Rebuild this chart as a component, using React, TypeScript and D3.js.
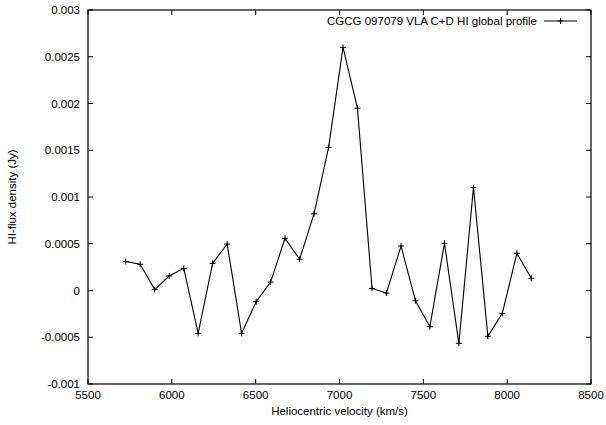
import React from "react";
import * as d3 from "d3";

const velocities = [5725, 5811, 5898, 5984, 6071, 6157, 6243, 6330, 6416, 6503, 6589, 6675, 6762, 6848, 6935, 7021, 7107, 7194, 7280, 7367, 7453, 7539, 7626, 7712, 7799, 7885, 7971, 8058, 8144];
const fluxes = [0.00031, 0.00028, 0.00001, 0.000155, 0.000237, -0.000458, 0.00029, 0.000497, -0.000458, -0.00012, 0.00009, 0.000558, 0.000334, 0.00082, 0.00153, 0.0026, 0.00195, 0.000022, -0.000027, 0.000476, -0.00011, -0.000387, 0.000505, -0.000565, 0.0011, -0.00049, -0.000244, 0.000398, 0.00013];
const xTicks = [5500, 6000, 6500, 7000, 7500, 8000, 8500];
const yTicks = [-0.001, -0.0005, 0, 0.0005, 0.001, 0.0015, 0.002, 0.0025, 0.003];
const yTickLabels = ["-0.001", "-0.0005", "0", "0.0005", "0.001", "0.0015", "0.002", "0.0025", "0.003"];
const legendLabel = "CGCG 097079 VLA C+D HI global profile";
const xTitle = "Heliocentric velocity (km/s)";
const yTitle = "HI-flux density (Jy)";

export default function App() {
  const W = 606, H = 425;
  const L = 88, R = 591, T = 10, B = 384;
  const x = d3.scaleLinear().domain([5500, 8500]).range([L, R]);
  const y = d3.scaleLinear().domain([-0.001, 0.003]).range([B, T]);
  const pts = velocities.map((v, i) => [x(v), y(fluxes[i])] as [number, number]);
  const line = d3.line()(pts) || "";
  const font = "Liberation Sans, Arial, sans-serif";
  const fs = 11.5;
  const tl = 5;
  const cross = (cx: number, cy: number, k: string) => (
    <path key={k} d={`M${cx - 3},${cy}H${cx + 3}M${cx},${cy - 3}V${cy + 3}`} stroke="#000" strokeWidth={1} />
  );
  const legY = 21;
  return (
    <svg width={W} height={H} style={{ position: "absolute", left: 0, top: 0, background: "#fff" }} fontFamily={font}>
      <rect x={0} y={0} width={W} height={H} fill="#fff" />
      {xTicks.map((t) => (
        <g key={"x" + t}>
          <line x1={x(t)} x2={x(t)} y1={B} y2={B - tl} stroke="#000" />
          <line x1={x(t)} x2={x(t)} y1={T} y2={T + tl} stroke="#000" />
          <text x={x(t)} y={399} fontSize={fs} textAnchor="middle">{t}</text>
        </g>
      ))}
      {yTicks.map((t, i) => (
        <g key={"y" + i}>
          <line x1={L} x2={L + tl} y1={y(t)} y2={y(t)} stroke="#000" />
          <line x1={R} x2={R - tl} y1={y(t)} y2={y(t)} stroke="#000" />
          <text x={80} y={y(t) + 4} fontSize={fs} textAnchor="end">{yTickLabels[i]}</text>
        </g>
      ))}
      <rect x={L} y={T} width={R - L} height={B - T} fill="none" stroke="#000" strokeWidth={1.2} />
      <path d={line} fill="none" stroke="#000" strokeWidth={1.1} />
      {pts.map((p, i) => cross(p[0], p[1], "p" + i))}
      <text x={537} y={legY + 4} fontSize={fs} textAnchor="end">{legendLabel}</text>
      <line x1={544} x2={577} y1={legY} y2={legY} stroke="#000" strokeWidth={1.1} />
      {cross(560.5, legY, "leg")}
      <text x={(L + R) / 2} y={415} fontSize={fs} textAnchor="middle">{xTitle}</text>
      <text transform={`translate(16,${(T + B) / 2}) rotate(-90)`} fontSize={fs} textAnchor="middle">{yTitle}</text>
    </svg>
  );
}
